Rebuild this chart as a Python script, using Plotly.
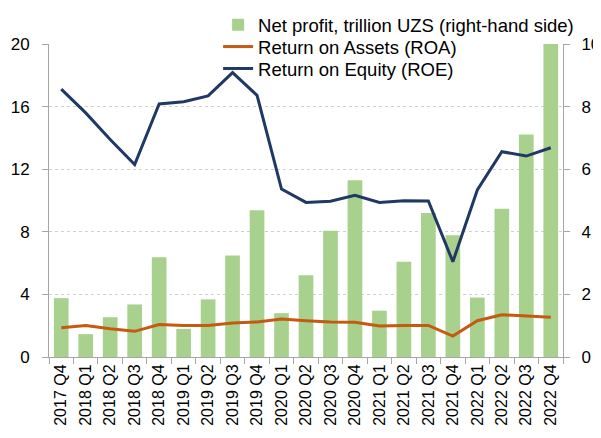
import plotly.graph_objects as go

quarters = ["2017 Q4", "2018 Q1", "2018 Q2", "2018 Q3", "2018 Q4", "2019 Q1", "2019 Q2",
            "2019 Q3", "2019 Q4", "2020 Q1", "2020 Q2", "2020 Q3", "2020 Q4", "2021 Q1",
            "2021 Q2", "2021 Q3", "2021 Q4", "2022 Q1", "2022 Q2", "2022 Q3", "2022 Q4"]

net_profit = [1.88, 0.73, 1.27, 1.68, 3.19, 0.90, 1.84, 3.24, 4.69, 1.40, 2.61,
              4.03, 5.65, 1.48, 3.04, 4.60, 3.89, 1.90, 4.74, 7.11, 10.0]

roa = [1.87, 2.02, 1.81, 1.64, 2.07, 2.02, 2.02, 2.17, 2.24, 2.43, 2.32,
       2.24, 2.22, 1.98, 2.02, 2.02, 1.34, 2.32, 2.70, 2.60, 2.54]

roe = [17.12, 15.6, 13.9, 12.29, 16.17, 16.31, 16.68, 18.17, 16.72, 10.73, 9.88,
       9.95, 10.33, 9.88, 9.99, 9.97, 6.09, 10.67, 13.12, 12.84, 13.37]

left_ticks = [0, 4, 8, 12, 16, 20]
right_ticks = [0, 2, 4, 6, 8, 10]

FONT = "Liberation Sans"

fig = go.Figure()
fig.add_trace(go.Bar(x=quarters, y=net_profit, name="Net profit, trillion UZS (right-hand side)",
                     marker=dict(color="#A9D18E", line=dict(width=0)), yaxis="y",
                     legend="legend"))
fig.add_trace(go.Scatter(x=quarters, y=roa, name="Return on Assets (ROA)", mode="lines",
                         line=dict(color="#C55A11", width=3), yaxis="y2", legend="legend2"))
fig.add_trace(go.Scatter(x=quarters, y=roe, name="Return on Equity (ROE)", mode="lines",
                         line=dict(color="#203864", width=3), yaxis="y2", legend="legend3"))

leg_common = dict(x=0.329, xanchor="left", yanchor="top", bgcolor="rgba(0,0,0,0)",
                  font=dict(size=18.5, family=FONT), itemwidth=30)

fig.update_layout(
    width=601, height=438,
    margin=dict(l=41, r=46, t=36, b=89, autoexpand=False),
    paper_bgcolor="white", plot_bgcolor="white",
    font=dict(family=FONT, size=16, color="#000000"),
    bargap=0.4,
    showlegend=True,
    legend=dict(y=1.121, **leg_common),
    legend2=dict(y=1.051, **leg_common),
    legend3=dict(y=0.981, **leg_common),
    xaxis=dict(type="category", tickangle=-90, showgrid=False,
               showline=True, linecolor="#A6A6A6", linewidth=1,
               ticks="outside", tickson="boundaries", ticklen=6, tickcolor="#A6A6A6",
               tickfont=dict(size=16), range=[-0.5, 20.5]),
    yaxis=dict(side="right", range=[0, 10], tickvals=right_ticks, showgrid=False,
               showline=True, linecolor="#A6A6A6", linewidth=1,
               ticks="outside", ticklen=6, tickcolor="#A6A6A6", zeroline=False,
               ticklabelstandoff=8, tickfont=dict(size=17)),
    yaxis2=dict(side="left", overlaying="y", range=[0, 20], tickvals=left_ticks,
                showgrid=True, gridcolor="#D0D0D0", griddash="dot", gridwidth=1,
                showline=True, linecolor="#A6A6A6", linewidth=1,
                ticks="outside", ticklen=6, tickcolor="#A6A6A6", zeroline=False,
                ticklabelstandoff=9, tickfont=dict(size=17)),
)

fig.write_html("out.html")
